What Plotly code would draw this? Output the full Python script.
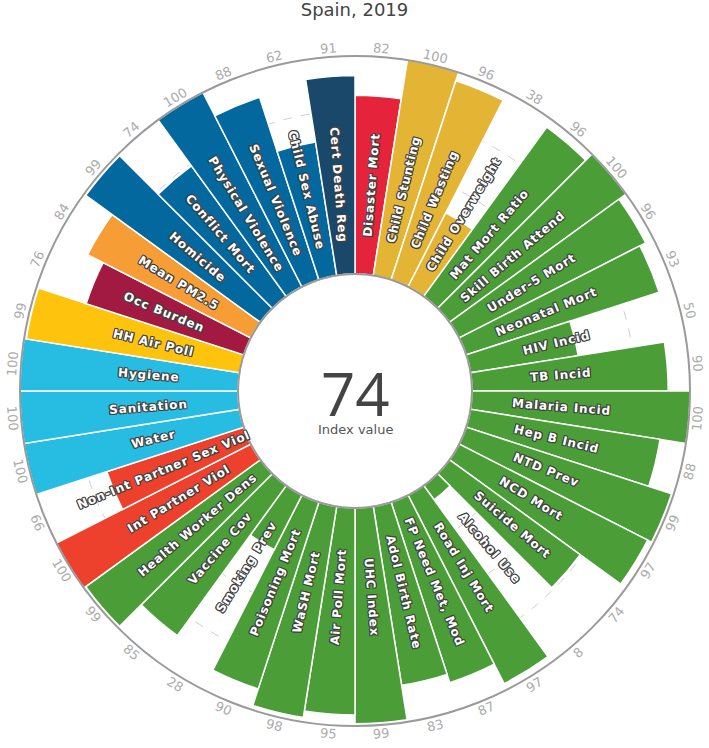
import math
import plotly.graph_objects as go

# ---------------- data ----------------
indicators = [
    "Disaster Mort", "Child Stunting", "Child Wasting", "Child Overweight",
    "Mat Mort Ratio", "Skill Birth Attend", "Under-5 Mort", "Neonatal Mort",
    "HIV Incid", "TB Incid", "Malaria Incid", "Hep B Incid", "NTD Prev",
    "NCD Mort", "Suicide Mort", "Alcohol Use", "Road Inj Mort",
    "FP Need Met, Mod", "Adol Birth Rate", "UHC Index", "Air Poll Mort",
    "WaSH Mort", "Poisoning Mort", "Smoking Prev", "Vaccine Cov",
    "Health Worker Dens", "Int Partner Viol", "Non-Int Partner Sex Viol",
    "Water", "Sanitation", "Hygiene", "HH Air Poll", "Occ Burden",
    "Mean PM2.5", "Homicide", "Conflict Mort", "Physical Violence",
    "Sexual Violence", "Child Sex Abuse", "Cert Death Reg",
]
values = [
    82, 100, 96, 38,
    96, 100, 96, 93,
    50, 90, 100, 88, 99,
    97, 74, 8, 97,
    87, 83, 99, 95,
    98, 90, 28, 85,
    99, 100, 66,
    100, 100, 100, 99, 76,
    84, 99, 74, 100,
    88, 62, 91,
]
goals = [
    1, 2, 2, 2,
    3, 3, 3, 3,
    3, 3, 3, 3, 3,
    3, 3, 3, 3,
    3, 3, 3, 3,
    3, 3, 3, 3,
    3, 5, 5,
    6, 6, 6, 7, 8,
    11, 16, 16, 16,
    16, 16, 17,
]
goal_colors = {
    1: "#E5243B", 2: "#E4B435", 3: "#4A9D37", 5: "#EE412D", 6: "#27BDE2",
    7: "#FDC30D", 8: "#A21942", 11: "#F79D36", 16: "#03689D", 17: "#19486A",
}
title_text = "Spain, 2019"
index_value = 74

# ---------------- geometry ----------------
W, H = 709, 748
ML, MR, MT, MB = 20, 19, 56, 22
PLOT = W - ML - MR  # 670 square plot area
n = len(indicators)
step = 360.0 / n
theta = [i * step for i in range(n)]
colors = [goal_colors[g] for g in goals]
HOLE_PX = 117.0
R_PX = PLOT / 2.0

fig = go.Figure()
fig.add_trace(go.Barpolar(
    r=values,
    theta=theta,
    width=[step] * n,
    marker=dict(color=colors, line=dict(color="white", width=1.5)),
    hoverinfo="text",
    hovertext=[f"{a}: {v}" for a, v in zip(indicators, values)],
    showlegend=False,
))


def to_paper(phi_deg, rpx):
    p = math.radians(phi_deg)
    return 0.5 + rpx * math.sin(p) / PLOT, 0.5 + rpx * math.cos(p) / PLOT


annotations = []
oc = "#404040"
outline = (f"-1px -1px 0 {oc}, 1px -1px 0 {oc}, -1px 1px 0 {oc}, "
           f"1px 1px 0 {oc}, 0 -1px 0 {oc}, 0 1px 0 {oc}, -1px 0 0 {oc}, "
           f"1px 0 0 {oc}")
for i, (name, v) in enumerate(zip(indicators, values)):
    phi = (theta[i] + step / 2.0) % 360.0  # clockwise from top
    # label inside bar (radial)
    if phi <= 180:
        ang = phi - 90
    else:
        ang = phi - 270
    x, y = to_paper(phi, 207)
    annotations.append(dict(
        x=x, y=y, xref="paper", yref="paper",
        text=f'<span style="letter-spacing:0.9px">{name}</span>',
        showarrow=False,
        textangle=ang, xanchor="center", yanchor="middle",
        font=dict(family="DejaVu Sans", size=12, color="white",
                  weight="bold", shadow=outline),
    ))
    # value around the ring (tangential)
    if phi <= 90 or phi >= 270:
        vang = phi if phi <= 90 else phi - 360
    else:
        vang = phi - 180
    x, y = to_paper(phi, 344)
    annotations.append(dict(
        x=x, y=y, xref="paper", yref="paper", text=str(v), showarrow=False,
        textangle=vang, xanchor="center", yanchor="middle",
        font=dict(family="DejaVu Sans", size=13, color="#ababab"),
    ))

annotations.append(dict(
    x=0.5, y=0.5 - 2 / PLOT, xref="paper", yref="paper", text=str(index_value),
    showarrow=False, xanchor="center", yanchor="middle", height=50,
    font=dict(family="Open Sans", size=60, color="#444444"),
))
annotations.append(dict(
    x=0.5, y=0.5 - 38 / PLOT, xref="paper", yref="paper", text="Index value",
    showarrow=False, xanchor="center", yanchor="middle",
    font=dict(family="DejaVu Sans", size=13, color="#555555"),
))

hole_frac = HOLE_PX / R_PX
fig.update_layout(
    template="none",
    width=W, height=H,
    margin=dict(l=ML, r=MR, t=MT, b=MB, pad=0),
    paper_bgcolor="white",
    title=dict(text=title_text, x=0.5, xanchor="center", y=1 - 10 / H,
               yanchor="middle", yref="container",
               font=dict(family="DejaVu Sans", size=18, color="#444444")),
    polar=dict(
        domain=dict(x=[0, 1], y=[0, 1]),
        bgcolor="white",
        hole=hole_frac,
        radialaxis=dict(range=[0, 100], tickvals=[25, 50, 75],
                        showticklabels=False, ticks="", showline=False,
                        showgrid=True, gridcolor="#cfcfcf", griddash="dash",
                        gridwidth=1),
        angularaxis=dict(rotation=90 - step / 2.0, direction="clockwise",
                         showgrid=False, showticklabels=False, ticks="",
                         showline=True, linecolor="#9a9a9a", linewidth=2),
    ),
    annotations=annotations,
    shapes=[dict(type="circle", xref="paper", yref="paper",
                 x0=0.5 - HOLE_PX / PLOT, x1=0.5 + HOLE_PX / PLOT,
                 y0=0.5 - HOLE_PX / PLOT, y1=0.5 + HOLE_PX / PLOT,
                 line=dict(color="#d6d6d6", width=1.5), layer="below")],
)

fig.write_html(
    "out.html",
    config={"displayModeBar": False},
    post_script="document.body.style.margin='0';document.body.style.overflow='hidden';",
)
